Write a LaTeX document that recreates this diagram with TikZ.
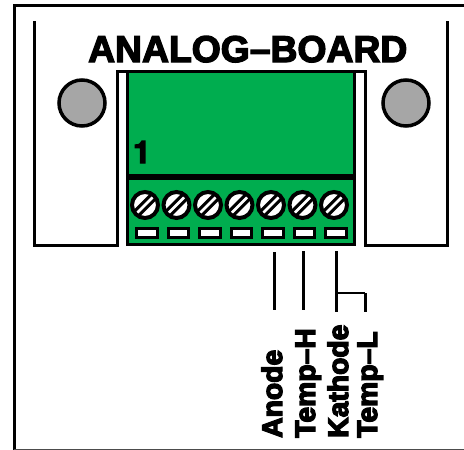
\documentclass[tikz,border=0pt]{standalone}
\usepackage{fontspec}
\setmainfont{Liberation Sans}[BoldFont={Liberation Sans Bold}]
\newfontfamily\onefont{TeX Gyre Heros}[BoldFont={TeX Gyre Heros Bold}]
\definecolor{boardgreen}{HTML}{00AD4F}
\definecolor{boltgray}{HTML}{A6A6A6}
\newcommand{\heavy}[1]{\special{pdf:literal direct 2 Tr 1.3 w}#1\special{pdf:literal direct 0 Tr 0 w}}
\tikzset{
  x=1pt,y=-1pt,
  frameline/.style={draw=black,line width=3pt,line cap=butt,line join=miter},
  board/.style={draw=black,fill=boardgreen,line width=3pt},
  bolt/.style={circle,draw=black,fill=boltgray,line width=3.5pt,minimum size=46pt,inner sep=0pt},
  screwhead/.style={circle,draw=black,fill=white,line width=4pt,minimum size=26pt,inner sep=0pt},
  slot/.style={rectangle,draw=black,fill=white,line width=3pt,minimum width=20.5pt,minimum height=9pt,inner sep=0pt},
  wire/.style={draw=black,line width=3pt},
  wirethin/.style={draw=black,line width=2pt},
  title/.style={font=\bfseries\fontsize{37.3}{37}\selectfont,inner sep=0pt,anchor=base west,text=black},
  sidelabel/.style={font=\bfseries\fontsize{28.3}{28}\selectfont,inner sep=0pt,rotate=90,anchor=base west,text=black}
}
\begin{document}
\begin{tikzpicture}
\useasboundingbox (0,0) rectangle (464,450);
\fill[white] (0,0) rectangle (464,450);
% outer frame
\draw[frameline] (14,450) -- (14,5.5) -- (464,5.5);
\draw[draw=black!70,line width=1.5pt] (14,449.5) -- (464,449.5);
% side panels
\draw[frameline] (34.5,21) -- (34.5,245) -- (117.5,245) -- (117.5,71.5) -- (365.5,71.5) -- (365.5,245) -- (447,245) -- (447,21);
% bolts
\node[bolt] (boltL) at (82,103) {};
\node[bolt] (boltR) at (406,103) {};
% green boards
\draw[board] (127.5,71.5) rectangle (354.5,175);
\draw[board] (127.5,178.5) rectangle (354.5,244.5);
% screws and slots
\foreach \n/\x in {1/145,2/176.5,3/208,4/239.5,5/271,6/302.5,7/334}{
  \node[screwhead] (s\n) at (\x,205) {};
  \draw[black,line width=3pt] (\x-10.3,205+6.1) -- (\x+6.1,205-10.3);
  \draw[black,line width=3pt] (\x-6.1,205+10.3) -- (\x+10.3,205-6.1);
  \node[slot] (t\n) at (\x+2,233) {};
}
% wires
\coordinate (w1a) at (274,252); \coordinate (w1b) at (274,310);
\coordinate (w2a) at (303,251); \coordinate (w2b) at (303,310);
\coordinate (w3a) at (336,251); \coordinate (w3b) at (336,312);
\coordinate (w3c) at (336,293); \coordinate (w4a) at (365,293); \coordinate (w4b) at (365,312);
\draw[wire] (w1a) -- (w1b);
\draw[wire] (w2a) -- (w2b);
\draw[wire] (w3a) -- (w3b);
\draw[wirethin] (w3c) -- (w4a);
\draw[wire] (w4a) -- (w4b);
% texts
\node[title] (ttl) at (88,62) {\heavy{ANALOG–BOARD}};
\node[inner sep=0pt,anchor=base west,font=\onefont\bfseries\fontsize{31}{31}\selectfont] (one) at (133,163) {\heavy{1}};
\node[sidelabel] (l1) at (282,438) {\heavy{Anode}};
\node[sidelabel] (l2) at (315,438) {\heavy{Temp–H}};
\node[sidelabel] (l3) at (348,438) {\heavy{Kathode}};
\node[sidelabel] (l4) at (377,438) {\heavy{Temp–L}};
\end{tikzpicture}
\end{document}
